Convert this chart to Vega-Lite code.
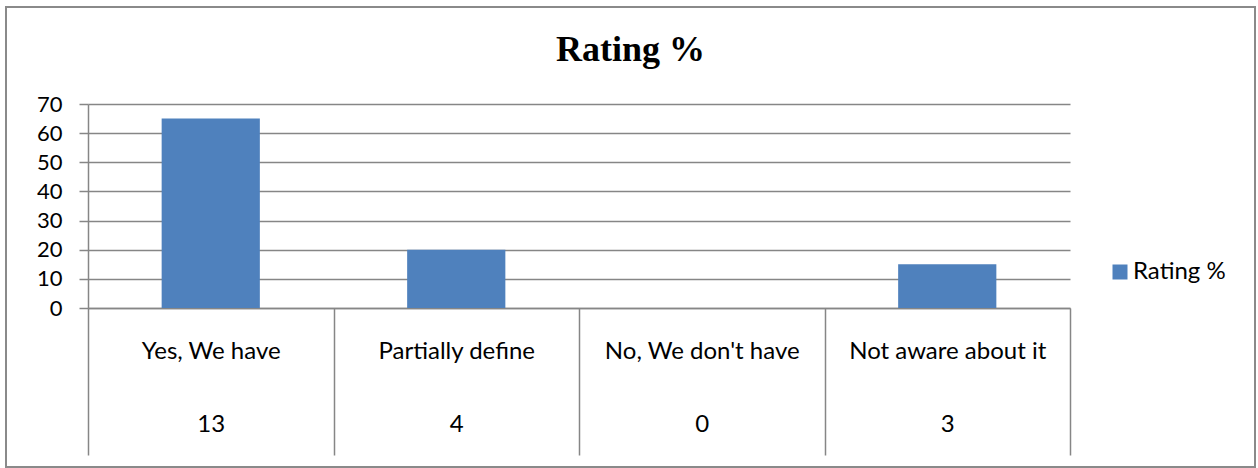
{
  "$schema": "https://vega.github.io/schema/vega-lite/v6.json",
  "width": 1249,
  "height": 460,
  "autosize": {"type": "none"},
  "padding": {"left": 6, "top": 7, "right": 3, "bottom": 1},
  "background": "white",
  "title": {
    "text": "Rating %",
    "font": "Liberation Serif",
    "fontSize": 36,
    "fontWeight": "bold",
    "color": "#000000",
    "anchor": "middle",
    "frame": "group",
    "baseline": "alphabetic",
    "offset": -90
  },
  "data": {
    "values": [
      {"category": "Yes, We have", "count": 13, "rating": 65},
      {"category": "Partially define", "count": 4, "rating": 20},
      {"category": "No, We don't have", "count": 0, "rating": 0},
      {"category": "Not aware about it", "count": 3, "rating": 15}
    ]
  },
  "transform": [
    {"calculate": "datum.category + '|' + datum.count", "as": "label"}
  ],
  "mark": {"type": "bar", "width": {"band": 0.4}},
  "encoding": {
    "x": {
      "field": "label",
      "type": "nominal",
      "sort": null,
      "scale": {"range": [82, 1064], "paddingInner": 0, "paddingOuter": 0},
      "axis": {
        "title": null,
        "orient": "bottom",
        "offset": -159,
        "grid": false,
        "tickBand": "extent",
        "tickSize": 147,
        "tickColor": "#868686",
        "tickWidth": 1.5,
        "domainColor": "#868686",
        "domainWidth": 1.5,
        "labelExpr": "split(datum.label, '|')",
        "labelAngle": 0,
        "labelBaseline": "top",
        "labelPadding": -116,
        "labelLineHeight": 73,
        "labelLimit": 300,
        "labelFont": "Lato",
        "labelFontSize": 24,
        "labelColor": "#000000"
      }
    },
    "y": {
      "field": "rating",
      "type": "quantitative",
      "scale": {"domain": [0, 70], "range": [301, 97], "nice": false},
      "axis": {
        "title": null,
        "values": [0, 10, 20, 30, 40, 50, 60, 70],
        "offset": -82,
        "grid": true,
        "gridColor": "#868686",
        "gridWidth": 1.5,
        "domainColor": "#868686",
        "domainWidth": 1.5,
        "tickColor": "#868686",
        "tickWidth": 1.5,
        "tickSize": 9,
        "labelPadding": 17,
        "labelFont": "Lato",
        "labelFontSize": 22,
        "labelColor": "#000000"
      }
    },
    "color": {
      "datum": "Rating %",
      "type": "nominal",
      "scale": {"range": ["#4F81BD"]},
      "legend": {
        "title": null,
        "orient": "none",
        "legendX": 1102,
        "legendY": 253,
        "symbolType": "square",
        "symbolSize": 225,
        "symbolStrokeWidth": 0,
        "symbolOpacity": 1,
        "labelFont": "Lato",
        "labelFontSize": 24,
        "labelColor": "#000000",
        "labelOffset": 1,
        "padding": 0
      }
    }
  },
  "config": {
    "view": {"stroke": "#8a8a8a", "strokeWidth": 2, "fill": "white"}
  }
}
